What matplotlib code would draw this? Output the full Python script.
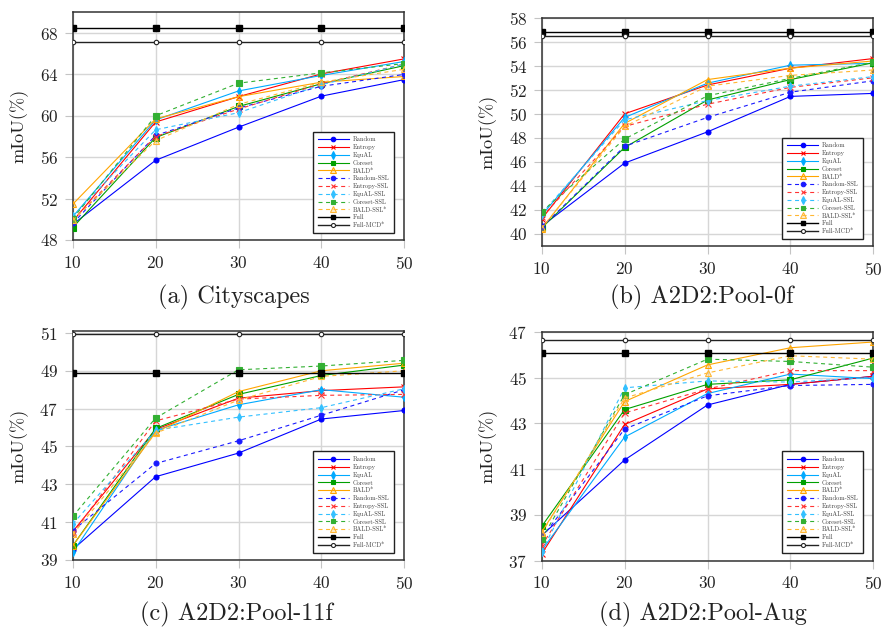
import matplotlib
matplotlib.use("Agg")
import matplotlib.pyplot as plt

plt.rcParams['font.family'] = 'serif'
plt.rcParams['font.serif'] = ['cmr10', 'DejaVu Serif']
plt.rcParams['mathtext.fontset'] = 'cm'
plt.rcParams['axes.formatter.use_mathtext'] = True

budgets = [10, 20, 30, 40, 50]
methods = ['Random', 'Entropy', 'EquAL', 'Coreset', 'BALD*']
ssl_methods = ['Random-SSL', 'Entropy-SSL', 'EquAL-SSL', 'Coreset-SSL', 'BALD-SSL*']

# (a) Cityscapes
city_random = [49.5, 55.7, 58.9, 61.9, 63.5]
city_entropy = [49.8, 59.4, 61.85, 64.05, 65.5]
city_equal = [50.25, 59.6, 62.4, 63.9, 65.25]
city_coreset = [49.2, 57.9, 60.9, 63.1, 64.85]
city_bald = [51.45, 59.7, 61.85, 63.25, 63.8]
city_random_ssl = [49.6, 58.1, 60.75, 62.85, 64.0]
city_entropy_ssl = [49.9, 58.0, 60.65, 63.1, 65.0]
city_equal_ssl = [50.3, 58.65, 60.3, 63.0, 65.0]
city_coreset_ssl = [50.05, 60.0, 63.15, 64.15, 65.05]
city_bald_ssl = [49.9, 57.6, 61.1, 63.25, 64.5]
city_full = 68.45
city_full_mcd = 67.1

# (b) A2D2:Pool-0f
p0_random = [40.65, 45.9, 48.5, 51.45, 51.7]
p0_entropy = [41.25, 50.0, 52.4, 53.8, 54.6]
p0_equal = [41.55, 49.7, 52.55, 54.05, 54.2]
p0_coreset = [40.5, 47.2, 51.15, 52.85, 54.25]
p0_bald = [40.45, 49.2, 52.85, 53.8, 54.4]
p0_random_ssl = [40.55, 47.3, 49.7, 51.8, 52.75]
p0_entropy_ssl = [41.4, 48.95, 50.8, 52.2, 53.0]
p0_equal_ssl = [41.7, 49.5, 51.1, 52.3, 53.1]
p0_coreset_ssl = [41.85, 47.9, 51.5, 52.95, 54.3]
p0_bald_ssl = [40.5, 48.95, 52.3, 53.2, 53.65]
p0_full = 56.85
p0_full_mcd = 56.5

# (c) A2D2:Pool-11f
p11_random = [39.55, 43.4, 44.65, 46.45, 46.9]
p11_entropy = [40.5, 45.9, 47.55, 47.95, 48.15]
p11_equal = [39.4, 45.85, 47.2, 48.0, 47.6]
p11_coreset = [39.75, 45.95, 47.75, 48.75, 49.3]
p11_bald = [39.75, 45.75, 47.9, 49.0, 49.4]
p11_random_ssl = [40.55, 44.1, 45.3, 46.65, 48.0]
p11_entropy_ssl = [40.4, 46.35, 47.5, 47.7, 47.75]
p11_equal_ssl = [40.9, 45.85, 46.55, 47.05, 48.05]
p11_coreset_ssl = [41.3, 46.5, 49.05, 49.25, 49.55]
p11_bald_ssl = [40.35, 45.7, 47.45, 48.7, 49.0]
p11_full = 48.9
p11_full_mcd = 50.92

# (d) A2D2:Pool-Aug
aug_random = [38.1, 41.4, 43.8, 44.7, 45.05]
aug_entropy = [37.3, 42.95, 44.5, 44.7, 45.05]
aug_equal = [37.45, 42.4, 44.3, 45.15, 44.95]
aug_coreset = [38.5, 43.6, 44.7, 44.9, 45.85]
aug_bald = [38.25, 43.95, 45.55, 46.3, 46.55]
aug_random_ssl = [38.0, 42.75, 44.2, 44.65, 44.7]
aug_entropy_ssl = [37.65, 43.45, 44.5, 45.3, 45.3]
aug_equal_ssl = [37.4, 44.55, 44.85, 44.8, 45.0]
aug_coreset_ssl = [37.95, 44.25, 45.8, 45.7, 45.45]
aug_bald_ssl = [38.2, 44.1, 45.2, 45.95, 45.8]
aug_full = 46.05
aug_full_mcd = 46.62

captions = ['(a) Cityscapes', '(b) A2D2:Pool-0f', '(c) A2D2:Pool-11f', '(d) A2D2:Pool-Aug']
yticks_list = [[48, 52, 56, 60, 64, 68],
               [40, 42, 44, 46, 48, 50, 52, 54, 56, 58],
               [39, 41, 43, 45, 47, 49, 51],
               [37, 39, 41, 43, 45, 47]]
ylims = [(48, 70), (39, 58), (39, 51.1), (37, 47)]

panels = [
    ([city_random, city_entropy, city_equal, city_coreset, city_bald],
     [city_random_ssl, city_entropy_ssl, city_equal_ssl, city_coreset_ssl, city_bald_ssl],
     city_full, city_full_mcd),
    ([p0_random, p0_entropy, p0_equal, p0_coreset, p0_bald],
     [p0_random_ssl, p0_entropy_ssl, p0_equal_ssl, p0_coreset_ssl, p0_bald_ssl],
     p0_full, p0_full_mcd),
    ([p11_random, p11_entropy, p11_equal, p11_coreset, p11_bald],
     [p11_random_ssl, p11_entropy_ssl, p11_equal_ssl, p11_coreset_ssl, p11_bald_ssl],
     p11_full, p11_full_mcd),
    ([aug_random, aug_entropy, aug_equal, aug_coreset, aug_bald],
     [aug_random_ssl, aug_entropy_ssl, aug_equal_ssl, aug_coreset_ssl, aug_bald_ssl],
     aug_full, aug_full_mcd),
]

colors = ['#0000ff', '#ff0000', '#00aaff', '#00a000', '#ffa500']
ssl_colors = ['#1a1aff', '#ff3333', '#33c0ff', '#33b033', '#ffb733']
markers = ['o', 'x', 'd', 's', '^']
msizes = [3.6, 3.8, 4.0, 3.8, 4.2]

W, H = 882, 629
# axes boxes in pixels: left, right, top, bottom
boxes = [(72.7, 404.3, 12.3, 240.0),
         (541.7, 873.3, 17.7, 246.0),
         (72.7, 404.3, 331.0, 560.0),
         (541.7, 873.3, 331.7, 560.7)]
# legend right/bottom in pixels
leg_rb = [(394.0, 233.0), (863.3, 239.0), (394.0, 552.7), (863.3, 552.7)]
cap_pos = [(233.5, 297.5), (702, 297.5), (236, 614.5), (703, 614.5)]

fig = plt.figure(figsize=(W / 100, H / 100), dpi=100)

for i, (al, ssl, full, mcd) in enumerate(panels):
    l, r, t, b = boxes[i]
    ax = fig.add_axes([l / W, 1 - b / H, (r - l) / W, (b - t) / H])
    for k in range(5):
        mfc = colors[k] if markers[k] != '^' else (1.0, 0.65, 0.0, 0.25)
        ax.plot(budgets, al[k], color=colors[k], lw=0.8, marker=markers[k],
                ms=msizes[k], mfc=mfc, mec=colors[k], mew=0.8, label=methods[k], zorder=3)
    for k in range(5):
        mfc = ssl_colors[k] if markers[k] != '^' else (1.0, 0.72, 0.2, 0.25)
        ax.plot(budgets, ssl[k], color=ssl_colors[k], lw=0.8, ls=(0, (3.6, 3.2)),
                marker=markers[k], ms=msizes[k], mfc=mfc, mec=ssl_colors[k], mew=0.8,
                label=ssl_methods[k], zorder=3)
    ax.plot(budgets, [full] * len(budgets), color='black', lw=1.0, marker='s', ms=3.8,
            label='Full', zorder=4)
    ax.plot(budgets, [mcd] * len(budgets), color='#222222', lw=1.0, marker='o', ms=3.2,
            mfc='white', mec='#222222', mew=0.8, label='Full-MCD*', zorder=4)
    ax.set_xlim(10, 50)
    ax.set_ylim(*ylims[i])
    ax.set_xticks(budgets)
    ax.set_yticks(yticks_list[i])
    ax.grid(True, color='#d6d6d6', lw=1.0, zorder=0)
    ax.set_axisbelow(True)
    ax.tick_params(axis='both', direction='out', length=5.5, width=0.8, color='#c4c4c4',
                   labelsize=12.3, pad=5.0, labelcolor='#222222')
    for s in ax.spines.values():
        s.set_color('#333333')
        s.set_linewidth(1.1)
    ax.set_ylabel('mIoU(%)', fontsize=13.2, labelpad=8, color='#222222')
    lr, lb = leg_rb[i]
    anchor = ((lr - l) / (r - l), (b - lb) / (b - t))
    leg = ax.legend(loc='lower right', bbox_to_anchor=anchor, borderaxespad=0.0,
                    fontsize=4.6, frameon=True, fancybox=False,
                    edgecolor='#222222', framealpha=1.0, handlelength=4.8,
                    labelspacing=0.3, borderpad=0.75, handletextpad=0.6,
                    markerscale=0.9)
    leg.get_frame().set_linewidth(1.0)
    for txt in leg.get_texts():
        txt.set_color('#444444')
    fig.text(cap_pos[i][0] / W, 1 - cap_pos[i][1] / H, captions[i], fontsize=17.5,
             ha='center', va='center', color='#222222')

fig.savefig('out.png', dpi=100)
